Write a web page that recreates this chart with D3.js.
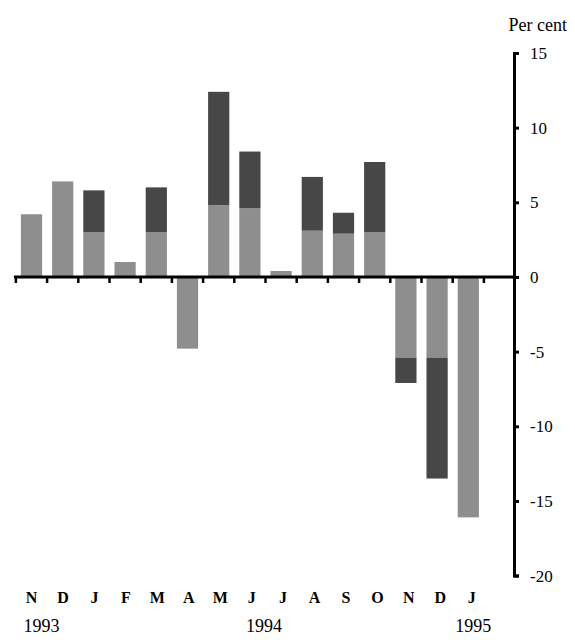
<!DOCTYPE html>
<html>
<head>
<meta charset="utf-8">
<script src="https://cdn.jsdelivr.net/npm/d3@7"></script>
<style>
  html, body { margin: 0; padding: 0; background: #fff; }
  svg { display: block; }
  text { font-family: "Liberation Serif", "Times New Roman", serif; fill: #000; }
</style>
</head>
<body>
<svg id="chart" width="575" height="643"></svg>
<script>
// ---- data ----
const months = ["N", "D", "J", "F", "M", "A", "M", "J", "J", "A", "S", "O", "N", "D", "J"];
const lightSeries = [4.2, 6.4, 3.0, 1.0, 3.0, -4.8, 4.8, 4.6, 0.4, 3.1, 2.9, 3.0, -5.4, -5.4, -16.1];
const darkSeries  = [0, 0, 2.8, 0, 3.0, 0, 7.6, 3.8, 0, 3.6, 1.4, 4.7, -1.7, -8.1, 0];
const yTicks = [15, 10, 5, 0, -5, -10, -15, -20];
const years = ["1993", "1994", "1995"];
const yearMonthIndex = [0, 7, 14];
const unitLabel = "Per cent";

// ---- layout ----
const svg = d3.select("#chart");
const axisX = 514;
const keys = months.map((m, i) => i);

const x = d3.scaleBand()
  .domain(keys)
  .range([15.9, 483.9])
  .paddingInner(0.32)
  .paddingOuter(0.16);

const y = d3.scaleLinear().domain([-20, 15]).range([575.6, 53]);

const rows = months.map((m, i) => ({ i, light: lightSeries[i], dark: darkSeries[i] }));
const stacked = d3.stack()
  .keys(["light", "dark"])
  .offset(d3.stackOffsetDiverging)(rows);

const colors = { light: "#8e8e8e", dark: "#474747" };

svg.append("g")
  .selectAll("g")
  .data(stacked)
  .join("g")
  .attr("fill", d => colors[d.key])
  .selectAll("rect")
  .data(d => d)
  .join("rect")
  .attr("x", d => x(d.data.i))
  .attr("width", x.bandwidth())
  .attr("y", d => y(Math.max(d[0], d[1])))
  .attr("height", d => Math.abs(y(d[0]) - y(d[1])));

// zero line with ticks between bars
const step = x.step();
const x0 = x.range()[0];
svg.append("line")
  .attr("x1", x0 - 2).attr("x2", axisX)
  .attr("y1", y(0)).attr("y2", y(0))
  .attr("stroke", "#000").attr("stroke-width", 3);
svg.append("g")
  .selectAll("line")
  .data(d3.range(months.length + 1))
  .join("line")
  .attr("x1", k => x0 + k * step).attr("x2", k => x0 + k * step)
  .attr("y1", y(0)).attr("y2", y(0) + 6)
  .attr("stroke", "#000").attr("stroke-width", 2.5);

// right y axis
const yAxis = d3.axisRight(y)
  .tickValues(yTicks)
  .tickFormat(d => String(d))
  .tickSize(5)
  .tickSizeOuter(5)
  .tickPadding(11);
const gy = svg.append("g")
  .attr("transform", `translate(${axisX},0)`)
  .call(yAxis);
gy.select(".domain").attr("stroke-width", 3);
gy.selectAll(".tick line").attr("stroke-width", 3);
gy.selectAll(".tick text")
  .attr("font-size", 17)
  .attr("font-family", "'Liberation Serif', 'Times New Roman', serif");

svg.append("text")
  .attr("x", 567).attr("y", 31)
  .attr("text-anchor", "end")
  .attr("font-size", 18)
  .text(unitLabel);

// month labels
svg.append("g")
  .selectAll("text")
  .data(months)
  .join("text")
  .attr("x", (m, i) => x(i) + x.bandwidth() / 2 + i * 0.25)
  .attr("y", 603)
  .attr("text-anchor", "middle")
  .attr("font-size", 16)
  .attr("font-weight", "bold")
  .text(d => d);

// year labels
const yearDx = [10, 14, 5];
svg.append("g")
  .selectAll("text")
  .data(years)
  .join("text")
  .attr("x", (yv, j) => x(yearMonthIndex[j]) + x.bandwidth() / 2 + yearDx[j])
  .attr("y", 632)
  .attr("text-anchor", "middle")
  .attr("font-size", 18)
  .text(d => d);
</script>
</body>
</html>
